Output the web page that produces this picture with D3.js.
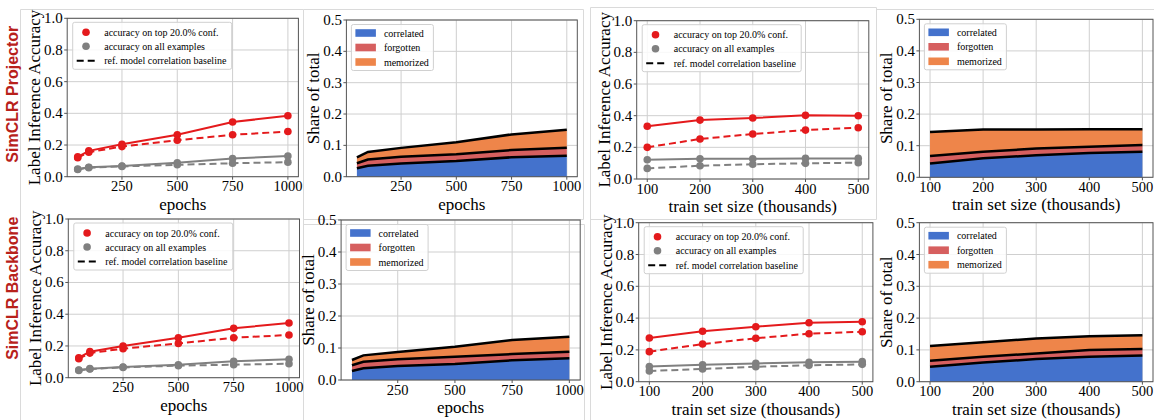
<!DOCTYPE html>
<html><head><meta charset="utf-8">
<script src="https://cdn.jsdelivr.net/npm/d3@7"></script>
<style>body{margin:0;background:#fff} svg{display:block}</style>
</head><body><svg id="c" width="1154" height="420"></svg>
<script>
// ---------- DATA ----------
const epochs = [50, 100, 250, 500, 750, 1000];
const trainSizes = [100, 200, 300, 400, 500];
const epochTicks = [250, 500, 750, 1000];
const sizeTicks = [100, 200, 300, 400, 500];
const accTicks = [0, 0.2, 0.4, 0.6, 0.8, 1.0];
const shareTicks = [0, 0.1, 0.2, 0.3, 0.4, 0.5];
const rowLabels = ["SimCLR Projector", "SimCLR Backbone"];
const lineLegend = ["accuracy on top 20.0% conf.", "accuracy on all examples", "ref. model correlation baseline"];
const areaKeys = ["correlated", "forgotten", "memorized"];

// SimCLR Projector, vs epochs
const projEpochTopAcc  = [0.125, 0.163, 0.205, 0.265, 0.345, 0.385];
const projEpochTopBase = [0.120, 0.155, 0.190, 0.230, 0.265, 0.285];
const projEpochAllAcc  = [0.048, 0.060, 0.068, 0.088, 0.115, 0.130];
const projEpochAllBase = [0.045, 0.057, 0.065, 0.075, 0.085, 0.092];
const projEpochCorrelated = [0.027, 0.035, 0.042, 0.050, 0.062, 0.067];
const projEpochForgotten  = [0.016, 0.020, 0.022, 0.022, 0.023, 0.025];
const projEpochMemorized  = [0.019, 0.024, 0.028, 0.038, 0.050, 0.058];

// SimCLR Projector, vs train set size
const projSizeTopAcc  = [0.333, 0.372, 0.385, 0.402, 0.400];
const projSizeTopBase = [0.200, 0.253, 0.284, 0.309, 0.324];
const projSizeAllAcc  = [0.122, 0.128, 0.128, 0.130, 0.130];
const projSizeAllBase = [0.067, 0.084, 0.093, 0.099, 0.103];
const projSizeCorrelated = [0.044, 0.060, 0.070, 0.077, 0.081];
const projSizeForgotten  = [0.0235, 0.021, 0.021, 0.020, 0.021];
const projSizeMemorized  = [0.076, 0.070, 0.060, 0.055, 0.050];

// SimCLR Backbone, vs epochs
const bbEpochTopAcc  = [0.126, 0.164, 0.200, 0.252, 0.311, 0.345];
const bbEpochTopBase = [0.120, 0.155, 0.183, 0.216, 0.252, 0.269];
const bbEpochAllAcc  = [0.048, 0.057, 0.067, 0.082, 0.103, 0.116];
const bbEpochAllBase = [0.046, 0.055, 0.065, 0.076, 0.082, 0.088];
const bbEpochCorrelated = [0.028, 0.0365, 0.044, 0.050, 0.0615, 0.068];
const bbEpochForgotten  = [0.018, 0.0205, 0.0206, 0.023, 0.0195, 0.0205];
const bbEpochMemorized  = [0.0165, 0.020, 0.023, 0.031, 0.044, 0.0465];

// SimCLR Backbone, vs train set size
const bbSizeTopAcc  = [0.275, 0.317, 0.346, 0.371, 0.377];
const bbSizeTopBase = [0.189, 0.237, 0.273, 0.302, 0.314];
const bbSizeAllAcc  = [0.096, 0.107, 0.115, 0.122, 0.126];
const bbSizeAllBase = [0.067, 0.080, 0.094, 0.103, 0.109];
const bbSizeCorrelated = [0.047, 0.060, 0.071, 0.0786, 0.082];
const bbSizeForgotten  = [0.019, 0.0186, 0.018, 0.021, 0.021];
const bbSizeMemorized  = [0.046, 0.0454, 0.047, 0.043, 0.0427];

// ---------- STYLE ----------
const SERIF = '"Liberation Serif","Times New Roman",serif';
const SANS = '"Liberation Sans",Arial,sans-serif';
const RED = "#e41a1c", GRAY = "#808080";
const AREA_COLORS = {correlated: "#4472cc", forgotten: "#d65f5f", memorized: "#ee854a"};
const SPINE = "#555", GRID = "#cfcfcf";

const svg = d3.select("#c");

// faint screenshot borders
const borderG = svg.append("g").attr("fill", "none").attr("stroke", "#dadada").attr("stroke-width", 1);
[
  [[20.5, 9.5], [20.5, 420]],
  [[20.5, 9.5], [303.5, 9.5]],
  [[303.5, 9.5], [583.5, 9.5]], [[303.5, 9.5], [303.5, 420]], [[583.5, 9.5], [583.5, 219.5]], [[303.5, 219.5], [583.5, 219.5]],
  [[584.5, 224.5], [584.5, 420]], [[303.5, 224.5], [584.5, 224.5]],
  [[590.5, 7.5], [590.5, 420]], [[590.5, 7.5], [876.5, 7.5]], [[876.5, 7.5], [876.5, 219.5]], [[590.5, 219.5], [876.5, 219.5]],
  [[876.5, 9.5], [1154, 9.5]]
].forEach(p => borderG.append("path").attr("d", d3.line()(p)));

function axesFrame(box, x, y, xTicks, yTicks, yFmt, xLabel, yLabel) {
  const g = svg.append("g");
  const x0 = box.x0, x1 = box.x1, y0 = box.y0, y1 = box.y1;
  g.append("g").selectAll("line").data(xTicks).join("line")
    .attr("x1", d => x(d)).attr("x2", d => x(d)).attr("y1", y0).attr("y2", y1)
    .attr("stroke", GRID).attr("stroke-width", 1);
  g.append("g").selectAll("line").data(yTicks).join("line")
    .attr("y1", d => y(d)).attr("y2", d => y(d)).attr("x1", x0).attr("x2", x1)
    .attr("stroke", GRID).attr("stroke-width", 1);
  g.append("g").selectAll("line").data(xTicks).join("line")
    .attr("x1", d => x(d)).attr("x2", d => x(d)).attr("y1", y1).attr("y2", y1 + 3)
    .attr("stroke", SPINE);
  g.append("g").selectAll("line").data(yTicks).join("line")
    .attr("y1", d => y(d)).attr("y2", d => y(d)).attr("x1", x0 - 3).attr("x2", x0)
    .attr("stroke", SPINE);
  g.append("g").selectAll("text").data(xTicks).join("text")
    .attr("x", d => x(d)).attr("y", y1 + 14.5).attr("text-anchor", "middle")
    .attr("font-family", SERIF).attr("font-size", 14.5).text(d => d);
  g.append("g").selectAll("text").data(yTicks).join("text")
    .attr("x", x0 - 4.5).attr("y", d => y(d) + 5).attr("text-anchor", "end")
    .attr("font-family", SERIF).attr("font-size", 15).text(yFmt);
  g.append("text").attr("x", (x0 + x1) / 2).attr("y", y1 + 33).attr("text-anchor", "middle")
    .attr("font-family", SERIF).attr("font-size", 17).text(xLabel);
  g.append("text").attr("transform", `translate(${x0 - 27},${(y0 + y1) / 2}) rotate(-90)`)
    .attr("text-anchor", "middle").attr("font-family", SERIF).attr("font-size", 17).text(yLabel);
  return g;
}
function spines(box) {
  svg.append("rect").attr("x", box.x0).attr("y", box.y0)
    .attr("width", box.x1 - box.x0).attr("height", box.y1 - box.y0)
    .attr("fill", "none").attr("stroke", SPINE).attr("stroke-width", 1);
}

function linePanel(box, xs, xTicks, xLabel, topAcc, topBase, allAcc, allBase) {
  const pad = (xs[xs.length - 1] - xs[0]) * 0.05;
  const x = d3.scaleLinear().domain([xs[0] - pad, xs[xs.length - 1] + pad]).range([box.x0, box.x1]);
  const y = d3.scaleLinear().domain([0, 1]).range([box.y1, box.y0]);
  axesFrame(box, x, y, xTicks, accTicks, d => d.toFixed(1), xLabel, "Label Inference Accuracy");
  const line = d3.line().x(d => x(d[0])).y(d => y(d[1]));
  const series = [
    {v: allBase, c: GRAY, dash: "7,4"},
    {v: allAcc, c: GRAY, dash: null},
    {v: topBase, c: RED, dash: "7,4"},
    {v: topAcc, c: RED, dash: null}
  ];
  const g = svg.append("g");
  series.forEach(s => {
    const pts = xs.map((xv, i) => [xv, s.v[i]]);
    g.append("path").attr("d", line(pts)).attr("fill", "none").attr("stroke", s.c)
      .attr("stroke-width", 2).attr("stroke-dasharray", s.dash);
    g.append("g").selectAll("circle").data(pts).join("circle")
      .attr("cx", d => x(d[0])).attr("cy", d => y(d[1])).attr("r", 3.8).attr("fill", s.c);
  });
  spines(box);
  const lx = box.x0 + 5.5, ly = box.y0 + 4;
  const lg = svg.append("g");
  lg.append("rect").attr("x", lx).attr("y", ly).attr("width", 159).attr("height", 47).attr("rx", 2)
    .attr("fill", "#fff").attr("fill-opacity", 0.85).attr("stroke", "#d0d0d0");
  const rows = [10, 24, 38.5];
  lg.append("circle").attr("cx", lx + 13.3).attr("cy", ly + rows[0]).attr("r", 3.8).attr("fill", RED);
  lg.append("circle").attr("cx", lx + 13.3).attr("cy", ly + rows[1]).attr("r", 3.8).attr("fill", GRAY);
  lg.append("line").attr("x1", lx + 4).attr("x2", lx + 22.5).attr("y1", ly + rows[2]).attr("y2", ly + rows[2])
    .attr("stroke", "#000").attr("stroke-width", 2).attr("stroke-dasharray", "7,4");
  lg.selectAll("text").data(lineLegend).join("text")
    .attr("x", lx + 31.5).attr("y", (d, i) => ly + rows[i] + 3.5)
    .attr("font-family", SERIF).attr("font-size", 10).text(d => d);
}

function areaPanel(box, xs, xTicks, xLabel, corr, forg, mem) {
  const pad = (xs[xs.length - 1] - xs[0]) * 0.05;
  const x = d3.scaleLinear().domain([xs[0] - pad, xs[xs.length - 1] + pad]).range([box.x0, box.x1]);
  const y = d3.scaleLinear().domain([0, 0.5]).range([box.y1, box.y0]);
  axesFrame(box, x, y, xTicks, shareTicks, d => d.toFixed(1), xLabel, "Share of total");
  const rows = xs.map((xv, i) => ({x: xv, correlated: corr[i], forgotten: forg[i], memorized: mem[i]}));
  const stacked = d3.stack().keys(areaKeys)(rows);
  const area = d3.area().x(d => x(d.data.x)).y0(d => y(d[0])).y1(d => y(d[1]));
  const topLine = d3.line().x(d => x(d.data.x)).y(d => y(d[1]));
  const g = svg.append("g");
  stacked.forEach(s => g.append("path").attr("d", area(s)).attr("fill", AREA_COLORS[s.key]));
  stacked.forEach(s => g.append("path").attr("d", topLine(s)).attr("fill", "none")
    .attr("stroke", "#000").attr("stroke-width", 2.5));
  spines(box);
  const lx = box.x0 + 5, ly = box.y0 + 4.5;
  const lg = svg.append("g");
  lg.append("rect").attr("x", lx).attr("y", ly).attr("width", 82).attr("height", 46).attr("rx", 2)
    .attr("fill", "#fff").attr("fill-opacity", 0.85).attr("stroke", "#d0d0d0");
  const ry = [8.5, 23, 37.5];
  areaKeys.forEach((k, i) => {
    lg.append("rect").attr("x", lx + 4).attr("y", ly + ry[i] - 3.8).attr("width", 20.5).attr("height", 7.6)
      .attr("fill", AREA_COLORS[k]);
    lg.append("text").attr("x", lx + 32.5).attr("y", ly + ry[i] + 3.5)
      .attr("font-family", SERIF).attr("font-size", 10).text(k);
  });
}

linePanel({x0: 67.2, x1: 298.4, y0: 18.3, y1: 176.7}, epochs, epochTicks, "epochs",
  projEpochTopAcc, projEpochTopBase, projEpochAllAcc, projEpochAllBase);
areaPanel({x0: 346.4, x1: 577.3, y0: 20, y1: 176.7}, epochs, epochTicks, "epochs",
  projEpochCorrelated, projEpochForgotten, projEpochMemorized);
linePanel({x0: 636.7, x1: 868.8, y0: 20.7, y1: 179}, trainSizes, sizeTicks, "train set size (thousands)",
  projSizeTopAcc, projSizeTopBase, projSizeAllAcc, projSizeAllBase);
areaPanel({x0: 919.4, x1: 1153, y0: 19.3, y1: 177.3}, trainSizes, sizeTicks, "train set size (thousands)",
  projSizeCorrelated, projSizeForgotten, projSizeMemorized);

linePanel({x0: 68.3, x1: 299.5, y0: 219, y1: 377.7}, epochs, epochTicks, "epochs",
  bbEpochTopAcc, bbEpochTopBase, bbEpochAllAcc, bbEpochAllBase);
areaPanel({x0: 341.1, x1: 580.2, y0: 220, y1: 380}, epochs, epochTicks, "epochs",
  bbEpochCorrelated, bbEpochForgotten, bbEpochMemorized);
linePanel({x0: 638.7, x1: 872.9, y0: 222.7, y1: 381.7}, trainSizes, sizeTicks, "train set size (thousands)",
  bbSizeTopAcc, bbSizeTopBase, bbSizeAllAcc, bbSizeAllBase);
areaPanel({x0: 919.4, x1: 1153, y0: 222.7, y1: 381.7}, trainSizes, sizeTicks, "train set size (thousands)",
  bbSizeCorrelated, bbSizeForgotten, bbSizeMemorized);

// row labels
[[94.2, rowLabels[0]], [288.3, rowLabels[1]]].forEach(([cy, t]) => {
  svg.append("text").attr("transform", `translate(17.5,${cy}) rotate(-90)`)
    .attr("text-anchor", "middle").attr("font-family", SANS).attr("font-weight", "bold")
    .attr("font-size", 16).attr("fill", "#b8211b").text(t);
});
</script></body></html>
